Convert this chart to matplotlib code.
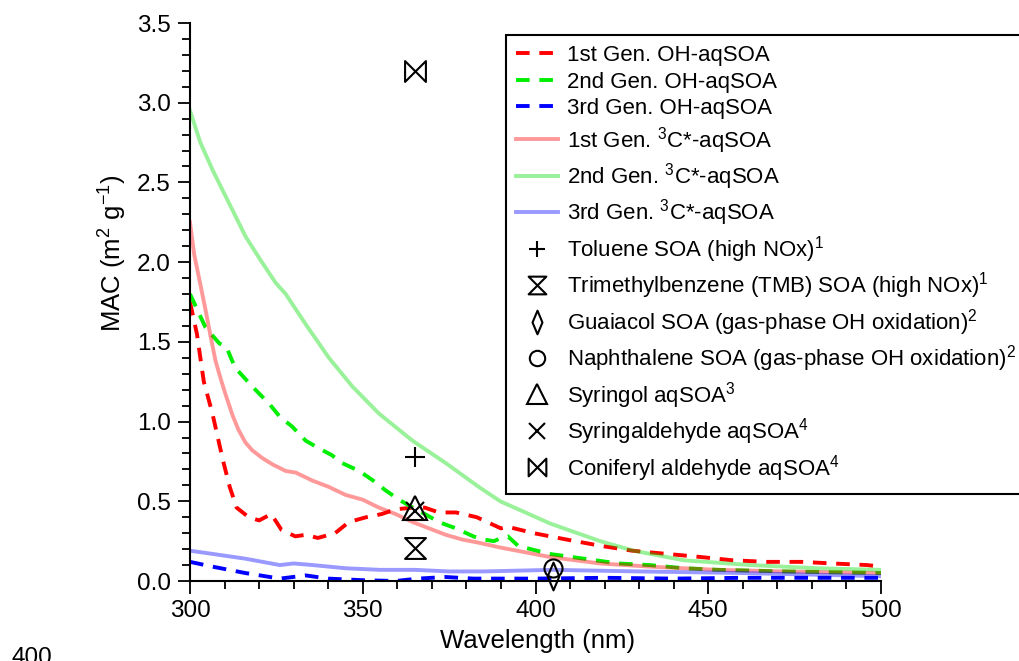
import numpy as np
import matplotlib
matplotlib.use('Agg')
import matplotlib.pyplot as plt
from matplotlib.path import Path
from matplotlib.ticker import MultipleLocator

plt.rcParams['font.family'] = ['Liberation Sans', 'DejaVu Sans']
plt.rcParams['mathtext.default'] = 'regular'

# OH-aqSOA (dashed)
wl_oh1 = [300, 302, 304, 306.5, 309.5, 311.5, 313.5, 317, 320, 323.5, 326.5, 330.5, 333.5, 337, 342, 346,
          351, 355.5, 359.5, 364.5, 368, 372, 377, 383, 386, 390, 392, 399.5, 409, 419, 428, 438, 448, 457,
          467, 477, 486, 496, 500]
mac_oh1 = [1.75, 1.55, 1.25, 1.05, 0.76, 0.59, 0.46, 0.40, 0.38, 0.42, 0.32, 0.28, 0.29, 0.27, 0.30, 0.37,
           0.40, 0.42, 0.45, 0.46, 0.46, 0.43, 0.43, 0.40, 0.37, 0.33, 0.34, 0.30, 0.26, 0.22, 0.19, 0.17, 0.15, 0.13,
           0.12, 0.12, 0.11, 0.10, 0.09]

wl_oh2 = [300, 304.5, 308.5, 310.5, 313, 318, 323, 326, 329.5, 333.5, 337.5, 341, 344, 349, 353, 356.5,
          360.5, 364.5, 368, 372, 377, 382, 385, 388, 390, 392, 395, 404, 414, 424, 433, 443, 453, 472, 500]
mac_oh2 = [1.80, 1.59, 1.49, 1.47, 1.34, 1.22, 1.11, 1.03, 0.97, 0.88, 0.83, 0.79, 0.74, 0.69, 0.63, 0.57,
           0.51, 0.46, 0.42, 0.37, 0.33, 0.28, 0.26, 0.25, 0.27, 0.28, 0.22, 0.17, 0.14, 0.11, 0.10, 0.08, 0.07, 0.06, 0.05]

wl_oh3 = [300, 306.5, 316, 326, 333.5, 340, 350, 359.5, 366, 374, 382, 400, 420, 440, 460, 480, 500]
mac_oh3 = [0.12, 0.09, 0.05, 0.015, 0.035, 0.015, 0.005, 0.0, 0.015, 0.025, 0.015, 0.015, 0.02, 0.015, 0.02, 0.02, 0.02]

# 3C*-aqSOA (solid)
wl_c1 = [300, 301.2, 303, 304.5, 306, 307.4, 309, 310.3, 312.3, 314, 316, 318, 321, 324, 327.7, 330.6, 335.4,
         340.2, 345, 350, 354.7, 359.5, 364.4, 369.2, 374, 378.8, 383.6, 389.8, 404.3, 418.7, 433.2, 452.5, 471.8, 500]
mac_c1 = [2.25, 2.05, 1.86, 1.70, 1.53, 1.38, 1.26, 1.17, 1.04, 0.95, 0.87, 0.82, 0.77, 0.73, 0.69, 0.68, 0.63,
          0.59, 0.54, 0.51, 0.46, 0.42, 0.37, 0.33, 0.29, 0.26, 0.24, 0.21, 0.15, 0.11, 0.09, 0.07, 0.06, 0.05]

wl_c2 = [300, 303, 306.5, 309, 311.3, 316.1, 320.5, 324.8, 327.7, 333.5, 340.2, 347, 354.7, 364.4, 374, 383.6, 389.8,
         404.3, 418.7, 428.4, 442.9, 462.2, 481.5, 500]
mac_c2 = [2.95, 2.75, 2.58, 2.47, 2.37, 2.16, 2.01, 1.87, 1.80, 1.61, 1.40, 1.22, 1.05, 0.88, 0.74, 0.59, 0.50,
          0.36, 0.25, 0.19, 0.13, 0.10, 0.08, 0.07]

wl_c3 = [300, 306.5, 316, 326, 330, 335.5, 345, 355, 365, 375, 385, 405, 430, 460, 480, 500]
mac_c3 = [0.19, 0.17, 0.14, 0.10, 0.11, 0.10, 0.08, 0.07, 0.07, 0.06, 0.06, 0.07, 0.06, 0.05, 0.04, 0.03]

# literature points
toluene = (365, 0.78)
tmb = (365, 0.21)
guaiacol = (405, 0.03)
naphthalene = (405, 0.08)
syringol = (365, 0.46)
syringaldehyde = (365, 0.44)
coniferyl = (365, 3.20)

hourglass = Path([(-1, 1), (1, 1), (-1, -1), (1, -1), (-1, 1)],
                 [Path.MOVETO, Path.LINETO, Path.LINETO, Path.LINETO, Path.CLOSEPOLY])
bowtie = Path([(-1, 1), (-1, -1), (1, 1), (1, -1), (-1, 1)],
              [Path.MOVETO, Path.LINETO, Path.LINETO, Path.LINETO, Path.CLOSEPOLY])
thin_diamond = Path([(0, 1), (0.42, 0), (0, -1), (-0.42, 0), (0, 1)],
                    [Path.MOVETO, Path.LINETO, Path.LINETO, Path.LINETO, Path.CLOSEPOLY])

fig = plt.figure(figsize=(10.19, 6.61), dpi=100)
ax = fig.add_axes([190/1019, 1-581/661, 691/1019, 558/661])

dash = (3.5, 2.5)
ax.plot(wl_oh1, mac_oh1, color='#ff0000', lw=2.8, dashes=dash, label='1st Gen. OH-aqSOA')
ax.plot(wl_oh2, mac_oh2, color='#00ee00', lw=2.8, dashes=dash, label='2nd Gen. OH-aqSOA')
ax.plot(wl_oh3, mac_oh3, color='#0000ff', lw=2.8, dashes=dash, label='3rd Gen. OH-aqSOA')
ax.plot(wl_c1, mac_c1, color='#ff0000', alpha=0.4, lw=2.8, label='1st Gen. $^{3}$C*-aqSOA')
ax.plot(wl_c2, mac_c2, color='#00dd00', alpha=0.4, lw=2.8, label='2nd Gen. $^{3}$C*-aqSOA')
ax.plot(wl_c3, mac_c3, color='#0000ff', alpha=0.4, lw=2.8, label='3rd Gen. $^{3}$C*-aqSOA')

mk = dict(color='black', linestyle='none', markerfacecolor='none', markeredgewidth=1.5, clip_on=False)
ax.plot(*toluene, marker='+', markersize=14, label='Toluene SOA (high NOx)$^{1}$', **mk)
ax.plot(*tmb, marker=hourglass, markersize=15, label='Trimethylbenzene (TMB) SOA (high NOx)$^{1}$', **mk)
ax.plot(*guaiacol, marker=thin_diamond, markersize=20, label='Guaiacol SOA (gas-phase OH oxidation)$^{2}$', **mk)
ax.plot(*naphthalene, marker='o', markersize=13, label='Naphthalene SOA (gas-phase OH oxidation)$^{2}$', **mk)
ax.plot(*syringol, marker='^', markersize=17, label='Syringol aqSOA$^{3}$', **mk)
ax.plot(*syringaldehyde, marker='x', markersize=13, label='Syringaldehyde aqSOA$^{4}$', **mk)
ax.plot(*coniferyl, marker=bowtie, markersize=15, label='Coniferyl aldehyde aqSOA$^{4}$', **mk)

ax.set_xlim(300, 500)
ax.set_ylim(0, 3.5)
ax.xaxis.set_major_locator(MultipleLocator(50))
ax.xaxis.set_minor_locator(MultipleLocator(10))
ax.yaxis.set_major_locator(MultipleLocator(0.5))
ax.yaxis.set_minor_locator(MultipleLocator(0.1))
ax.yaxis.set_major_formatter(plt.FormatStrFormatter('%.1f'))
ax.spines['top'].set_visible(False)
ax.spines['right'].set_visible(False)
for s in ['left', 'bottom']:
    ax.spines[s].set_linewidth(1.5)
ax.tick_params(which='major', direction='out', length=9, width=1.3, labelsize=17.5, pad=5)
ax.tick_params(which='minor', direction='out', length=5.5, width=1.3)

fig.text(538/1019, 1-641/661, 'Wavelength (nm)', fontsize=18.5, ha='center', va='center')
fig.text(113/1019, 1-253/661, 'MAC (m$^{2}$ g$^{-1}$)', fontsize=18.5, ha='center', va='center', rotation=90)
fig.text(12/1019, -0.004, '400', fontsize=17.5, ha='left', va='baseline')

leg = ax.legend(loc='upper left', bbox_to_anchor=(506/1019, 1-35/661), bbox_transform=fig.transFigure,
                fontsize=16, frameon=True, fancybox=False, framealpha=1, edgecolor='black',
                handlelength=1.9, handletextpad=0.38, labelspacing=0.25, borderpad=0.45,
                borderaxespad=0, markerscale=0.85)
leg.get_frame().set_linewidth(1.5)

fig.savefig('out.png', dpi=100)
